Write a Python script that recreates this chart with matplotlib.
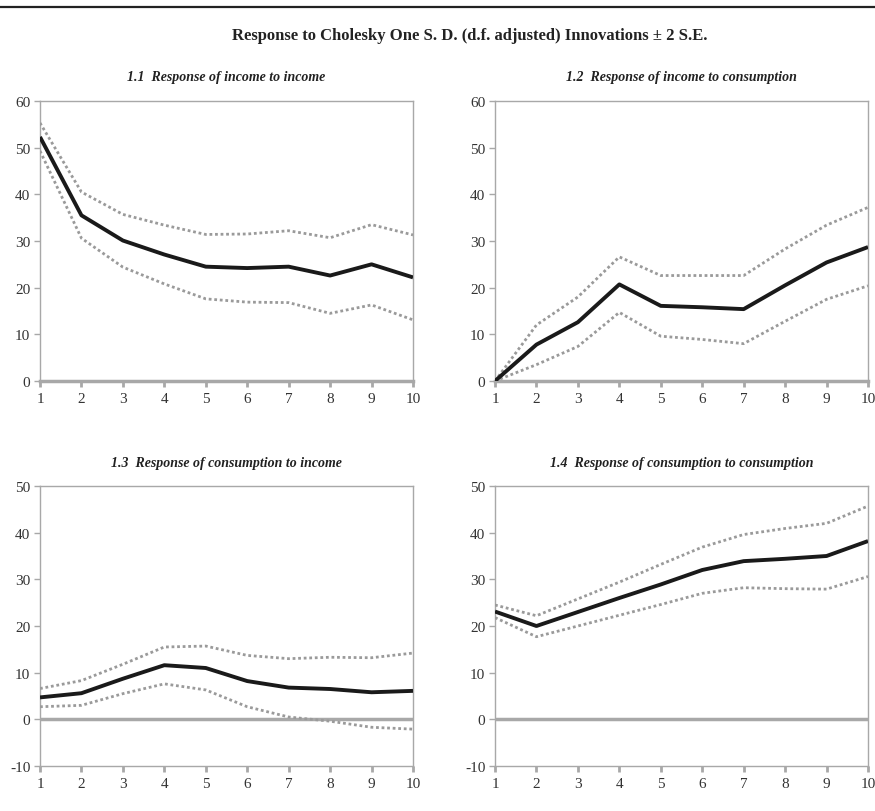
import matplotlib
matplotlib.use("Agg")
import matplotlib.pyplot as plt
from matplotlib.lines import Line2D

plt.rcParams['font.family'] = ['Liberation Serif', 'DejaVu Serif']
plt.rcParams['axes.unicode_minus'] = False

periods = [1, 2, 3, 4, 5, 6, 7, 8, 9, 10]

titles = ["1.1  Response of income to income",
          "1.2  Response of income to consumption",
          "1.3  Response of consumption to income",
          "1.4  Response of consumption to consumption"]

inc_inc = [52.3, 35.5, 30.1, 27.1, 24.5, 24.2, 24.5, 22.6, 25.0, 22.2]
inc_inc_up = [55.3, 40.5, 35.7, 33.4, 31.4, 31.5, 32.2, 30.7, 33.5, 31.3]
inc_inc_lo = [49.3, 30.6, 24.4, 20.8, 17.6, 16.9, 16.8, 14.5, 16.3, 13.1]

inc_con = [0.0, 7.8, 12.6, 20.7, 16.1, 15.8, 15.4, 20.5, 25.4, 28.7]
inc_con_up = [0.0, 12.0, 18.0, 26.6, 22.6, 22.6, 22.6, 28.3, 33.4, 37.2]
inc_con_lo = [0.0, 3.5, 7.4, 14.7, 9.6, 8.9, 8.0, 12.8, 17.5, 20.4]

con_inc = [4.7, 5.6, 8.7, 11.6, 11.0, 8.2, 6.8, 6.5, 5.8, 6.1]
con_inc_up = [6.6, 8.3, 11.8, 15.5, 15.7, 13.7, 13.0, 13.3, 13.2, 14.2]
con_inc_lo = [2.7, 3.0, 5.5, 7.6, 6.3, 2.7, 0.5, -0.4, -1.7, -2.1]

con_con = [23.1, 20.0, 23.0, 26.0, 28.9, 32.0, 33.9, 34.4, 35.0, 38.2]
con_con_up = [24.5, 22.2, 25.8, 29.4, 33.2, 36.9, 39.6, 40.9, 42.0, 45.7]
con_con_lo = [21.8, 17.7, 20.0, 22.3, 24.6, 27.0, 28.2, 28.0, 27.9, 30.6]

series = [(inc_inc, inc_inc_up, inc_inc_lo),
          (inc_con, inc_con_up, inc_con_lo),
          (con_inc, con_inc_up, con_inc_lo),
          (con_con, con_con_up, con_con_lo)]
ylims = [(0, 60), (0, 60), (-10, 50), (-10, 50)]

W, H = 875, 812
fig = plt.figure(figsize=(W / 100, H / 100), dpi=100)

# axes boxes in pixels: left, top, right, bottom
boxes = [(40, 102, 413, 382), (495, 102, 868, 382),
         (40, 487, 413, 767), (495, 487, 868, 767)]
title_y = [76, 76, 462, 462]

grey = '#a8a8a8'
band = '#9a9a9a'
txt = '#333333'

# top rule
fig.add_artist(Line2D([0, 1], [1 - 8 / H, 1 - 8 / H], color='#222222', lw=1.6,
                      transform=fig.transFigure))
fig.text(470 / W, 1 - 36 / H,
         "Response to Cholesky One S. D. (d.f. adjusted) Innovations \u00b1 2 S.E.",
         ha='center', va='center', fontsize=12, fontweight='bold', color='#222222')

for i, (box, (m, up, lo), yl, tt) in enumerate(zip(boxes, series, ylims, titles)):
    l, t, r, b = box
    ax = fig.add_axes([l / W, 1 - b / H, (r - l) / W, (b - t) / H])
    ax.plot(periods, up, color=band, lw=2.0, ls=(0, (1, 1)), zorder=3)
    ax.plot(periods, lo, color=band, lw=2.0, ls=(0, (1, 1)), zorder=3)
    ax.plot(periods, m, color='#1a1a1a', lw=2.8, zorder=4, solid_capstyle='butt')
    ax.set_xlim(1, 10)
    ax.set_ylim(*yl)
    ax.set_xticks(periods)
    ax.set_yticks(range(yl[0], yl[1] + 1, 10))
    for s in ['left', 'right', 'top']:
        ax.spines[s].set_color(grey)
        ax.spines[s].set_linewidth(1.0)
    if yl[0] == 0:
        ax.spines['bottom'].set_color(grey)
        ax.spines['bottom'].set_linewidth(2.5)
        ax.spines['bottom'].set_zorder(2)
    else:
        ax.spines['bottom'].set_color(grey)
        ax.spines['bottom'].set_linewidth(1.0)
        ax.axhline(0, color=grey, lw=2.5, zorder=2)
    ax.tick_params(axis='x', direction='out', length=4, width=2.0, color=grey,
                   labelsize=11, labelcolor=txt, pad=4)
    ax.tick_params(axis='y', direction='out', length=4, width=1.0, color=grey,
                   labelsize=11, labelcolor=txt, pad=3)
    ax.set_title(tt, fontsize=10, fontweight='bold', fontstyle='italic',
                 color='#222222', pad=(t - title_y[i] - 5) / 1.389)

fig.savefig("out.png", dpi=100)
